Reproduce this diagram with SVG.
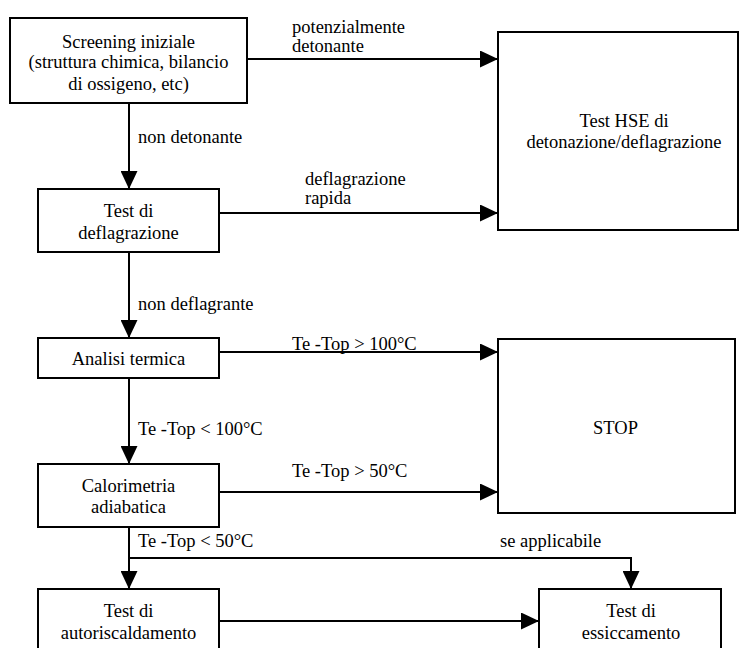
<svg xmlns="http://www.w3.org/2000/svg" width="739" height="648" viewBox="0 0 739 648" font-family="Liberation Serif, Times New Roman, serif" font-size="18.5">
  <style>
    .box { fill: #ffffff; stroke: #000000; stroke-width: 2; }
    .mid { text-anchor: middle; }
    .wire { fill: none; stroke: #000000; stroke-width: 2; }
  </style>
  <defs>
    <marker id="arrow" viewBox="0 0 18 17" refX="18" refY="8.5" markerWidth="18" markerHeight="17" markerUnits="userSpaceOnUse" orient="auto">
      <path d="M0,0 L18,8.5 L0,17 Z" fill="#000000"/>
    </marker>
  </defs>
  <rect width="739" height="648" fill="#ffffff"/>

  <g id="connectors">
    <path class="wire" d="M247,59 H498" marker-end="url(#arrow)"/>
    <path class="wire" d="M129,103 V189" marker-end="url(#arrow)"/>
    <path class="wire" d="M219,213 H498" marker-end="url(#arrow)"/>
    <path class="wire" d="M129,252 V338" marker-end="url(#arrow)"/>
    <path class="wire" d="M219,352 H498" marker-end="url(#arrow)"/>
    <path class="wire" d="M129,378 V464" marker-end="url(#arrow)"/>
    <path class="wire" d="M219,492 H498" marker-end="url(#arrow)"/>
    <path class="wire" d="M129,527 V589" marker-end="url(#arrow)"/>
    <path class="wire" d="M129,558 H631 V589" marker-end="url(#arrow)"/>
    <path class="wire" d="M219,621 H539" marker-end="url(#arrow)"/>
    <text x="292" y="33">potenzialmente</text>
    <text x="292" y="52">detonante</text>
    <text x="138" y="143">non detonante</text>
    <text x="305" y="185">deflagrazione</text>
    <text x="305" y="204">rapida</text>
    <text x="138" y="310">non deflagrante</text>
    <text x="292" y="350">Te -Top &gt; 100°C</text>
    <text x="138" y="435">Te -Top &lt; 100°C</text>
    <text x="292" y="477">Te -Top &gt; 50°C</text>
    <text x="138" y="547">Te -Top &lt; 50°C</text>
    <text x="500" y="547">se applicabile</text>
  </g>

  <g id="screening">
    <rect class="box" x="10" y="18" width="237" height="85"/>
    <text class="mid" x="128.5" y="48">Screening iniziale</text>
    <text class="mid" x="128.5" y="68">(struttura chimica, bilancio</text>
    <text class="mid" x="128.5" y="90">di ossigeno, etc)</text>
  </g>

  <g id="hse">
    <rect class="box" x="498" y="32" width="240" height="198"/>
    <text class="mid" x="624" y="127">Test HSE di</text>
    <text class="mid" x="624" y="148">detonazione/deflagrazione</text>
  </g>

  <g id="deflagrazione">
    <rect class="box" x="38" y="189" width="181" height="63"/>
    <text class="mid" x="128.5" y="217">Test di</text>
    <text class="mid" x="128.5" y="239">deflagrazione</text>
  </g>

  <g id="analisi">
    <rect class="box" x="38" y="338" width="181" height="40"/>
    <text class="mid" x="128.5" y="365">Analisi termica</text>
  </g>

  <g id="stop">
    <rect class="box" x="498" y="339" width="237" height="174"/>
    <text class="mid" x="615.5" y="434">STOP</text>
  </g>

  <g id="calorimetria">
    <rect class="box" x="38" y="464" width="181" height="63"/>
    <text class="mid" x="128.5" y="492">Calorimetria</text>
    <text class="mid" x="128.5" y="513">adiabatica</text>
  </g>

  <g id="autoriscaldamento">
    <rect class="box" x="38" y="589" width="181" height="70"/>
    <text class="mid" x="128.5" y="617">Test di</text>
    <text class="mid" x="128.5" y="639">autoriscaldamento</text>
  </g>

  <g id="essiccamento">
    <rect class="box" x="539" y="589" width="182" height="70"/>
    <text class="mid" x="631" y="617">Test di</text>
    <text class="mid" x="631" y="639">essiccamento</text>
  </g>
</svg>
